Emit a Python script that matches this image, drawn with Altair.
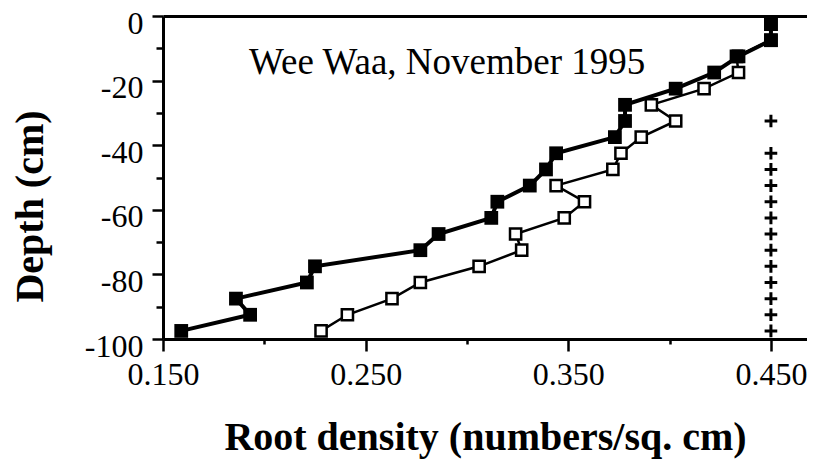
import altair as alt
import pandas as pd

# ---- data ----
depth = [-2.5, -7.5, -12.5, -17.5, -22.5, -27.5, -32.5, -37.5, -42.5, -47.5,
         -52.5, -57.5, -62.5, -67.5, -72.5, -77.5, -82.5, -87.5, -92.5, -97.5]
filled_density = [0.450, 0.450, 0.434, 0.422, 0.403, 0.378, 0.378, 0.373, 0.344, 0.339,
                  0.331, 0.315, 0.312, 0.286, 0.277, 0.225, 0.221, 0.186, 0.193, 0.159]
open_density = [0.450, 0.450, 0.433, 0.434, 0.417, 0.391, 0.403, 0.386, 0.376, 0.372,
                0.344, 0.358, 0.348, 0.324, 0.327, 0.306, 0.277, 0.263, 0.241, 0.228]
plus_depth = [-32.5, -42.5, -47.5, -52.5, -57.5, -62.5, -67.5, -72.5, -77.5,
              -82.5, -87.5, -92.5, -97.5]
plus_density = [0.45, 0.45, 0.45, 0.45, 0.45, 0.45, 0.45, 0.45, 0.45,
                0.45, 0.45, 0.45, 0.45]
x_tick_values = [0.15, 0.20, 0.25, 0.30, 0.35, 0.40, 0.45]
y_tick_values = [0, -10, -20, -30, -40, -50, -60, -70, -80, -90, -100]
annotation_text = ["Wee Waa, November 1995"]
annotation_x = [0.1925]
annotation_y = [-18.1]

FONT = "Liberation Serif"

df_filled = pd.DataFrame({"depth": depth, "density": filled_density})
df_open = pd.DataFrame({"depth": depth, "density": open_density})
df_plus = pd.DataFrame({"depth": plus_depth, "density": plus_density})
df_text = pd.DataFrame({"x": annotation_x, "y": annotation_y, "t": annotation_text})

x_scale = alt.Scale(domain=[0.15, 0.4678], nice=False, zero=False)
y_scale = alt.Scale(domain=[-100, 0], nice=False, zero=False)

y_axis = alt.Axis(
    values=y_tick_values,
    labelExpr="datum.value % 20 === 0 ? '' + datum.value : ''",
    tickSize={"condition": {"test": "datum.value % 20 === 0", "value": 11}, "value": 7},
    tickWidth=2.5, tickColor="black", domainColor="black", domainWidth=3,
    labelFont=FONT, labelFontSize=32, labelColor="black", labelPadding=9,
    labelBaseline="middle", labelOffset=7, labelOverlap=False, labelFlush=False, grid=False,
    title="Depth (cm)", titleFont=FONT, titleFontSize=40, titleFontWeight="bold",
    titleColor="black", titleAngle=270, titleAlign="center",
    titleBaseline="alphabetic", titleX=-121, titleY=190,
)

x_axis = alt.Axis(
    orient="bottom",
    values=x_tick_values,
    labelExpr="round(datum.value*100) % 10 === 5 ? format(datum.value, '.3f') : ''",
    tickSize={"condition": {"test": "round(datum.value*100) % 10 === 5", "value": 12}, "value": 5},
    tickWidth=2.5, tickColor="black", domainColor="black", domainWidth=3,
    labelFont=FONT, labelFontSize=32, labelColor="black", labelPadding=8,
    labelOverlap=False, labelFlush=False, grid=False,
    title="Root density (numbers/sq. cm)", titleFont=FONT, titleFontSize=40,
    titleFontWeight="bold", titleColor="black", titleBaseline="alphabetic", titleY=110,
)

top_axis = alt.Axis(orient="top", labels=False, ticks=False, domain=True,
                    domainColor="black", domainWidth=3, grid=False, title=None)

order = alt.Order("depth:Q", sort="descending")

open_line = alt.Chart(df_open).mark_line(color="black", strokeWidth=2.5).encode(
    x=alt.X("density:Q", scale=x_scale, axis=None),
    y=alt.Y("depth:Q", scale=y_scale, axis=y_axis),
    order=order,
)
open_pts = alt.Chart(df_open).mark_square(
    fill="white", stroke="black", strokeWidth=2.5, size=125, opacity=1
).encode(
    x=alt.X("density:Q", scale=x_scale, axis=None),
    y=alt.Y("depth:Q", scale=y_scale, axis=y_axis),
)
filled_line = alt.Chart(df_filled).mark_line(color="black", strokeWidth=4).encode(
    x=alt.X("density:Q", scale=x_scale, axis=None),
    y=alt.Y("depth:Q", scale=y_scale, axis=y_axis),
    order=order,
)
filled_pts = alt.Chart(df_filled).mark_square(color="black", size=190, opacity=1).encode(
    x=alt.X("density:Q", scale=x_scale, axis=x_axis),
    y=alt.Y("depth:Q", scale=y_scale, axis=y_axis),
)
plus_pts = alt.Chart(df_plus).mark_point(
    shape="M-1,0H1M0,-1V1", filled=False, color="black", strokeWidth=3, size=160, opacity=1
).encode(
    x=alt.X("density:Q", scale=x_scale, axis=top_axis),
    y=alt.Y("depth:Q", scale=y_scale, axis=y_axis),
)
label = alt.Chart(df_text).mark_text(
    font=FONT, fontSize=37, align="left", baseline="alphabetic", color="black"
).encode(
    x=alt.X("x:Q", scale=x_scale, axis=None),
    y=alt.Y("y:Q", scale=y_scale, axis=y_axis),
    text="t:N",
)

chart = alt.layer(open_line, open_pts, filled_line, filled_pts, plus_pts, label).resolve_axis(
    x="independent"
).properties(
    width=644, height=323,
    autosize=alt.AutoSizeParams(type="none"),
    padding={"left": 155, "top": 8, "right": 0, "bottom": 122},
).configure(background="white").configure_view(stroke=None)

chart.save("out.html", embed_options={"renderer": "svg", "actions": False})
